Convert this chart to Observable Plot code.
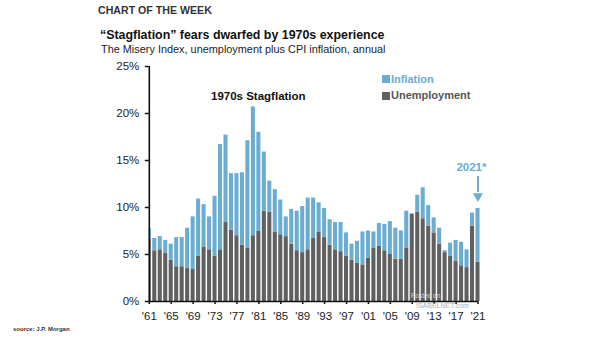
<!DOCTYPE html>
<html><head><meta charset="utf-8">
<script src="https://cdn.jsdelivr.net/npm/d3@7"></script>
<script src="https://cdn.jsdelivr.net/npm/@observablehq/plot@0.6"></script>
<style>
body{margin:0;background:#fff;font-family:"Liberation Sans",Arial,sans-serif;}
#wrap{position:relative;width:605px;height:341px;overflow:hidden;background:#fff;}
.abs{position:absolute;white-space:nowrap;line-height:1;}
.sw{position:absolute;width:8px;height:8px;}
</style></head><body>
<div id="wrap">
  <div class="abs" style="left:98px;top:5px;font-size:11.8px;font-weight:bold;color:#333;transform:scaleX(0.9);transform-origin:0 0;">CHART OF THE WEEK</div>
  <div class="abs" style="left:100px;top:29px;font-size:12.4px;font-weight:bold;color:#111;">“Stagflation” fears dwarfed by 1970s experience</div>
  <div class="abs" style="left:101px;top:43.8px;font-size:10.9px;color:#222;">The Misery Index, unemployment plus CPI inflation, annual</div>
  <div id="chart" style="position:absolute;left:0;top:60px;"></div>
  <div id="legend"></div>
  <div class="abs" style="left:411px;top:293px;font-size:6.5px;color:rgba(235,235,235,0.85);">Posted on</div>
  <div class="abs" style="left:416px;top:302px;font-size:7px;color:#a9b3b8;">ISABELNET.com</div>
  <div class="abs" style="left:13px;top:326px;font-size:6px;font-weight:bold;color:#333;">source: J.P. Morgan</div>
</div>
<script>
const years = [1961,1962,1963,1964,1965,1966,1967,1968,1969,1970,
  1971,1972,1973,1974,1975,1976,1977,1978,1979,1980,
  1981,1982,1983,1984,1985,1986,1987,1988,1989,1990,
  1991,1992,1993,1994,1995,1996,1997,1998,1999,2000,
  2001,2002,2003,2004,2005,2006,2007,2008,2009,2010,
  2011,2012,2013,2014,2015,2016,2017,2018,2019,2020,2021];
const unemployment = [6.6,5.4,5.5,5.1,4.4,3.7,3.7,3.5,3.4,4.8,
  5.8,5.5,4.8,5.5,8.4,7.6,7.0,6.0,5.7,7.0,
  7.5,9.6,9.5,7.4,7.1,6.9,6.1,5.4,5.2,5.5,
  6.7,7.4,6.8,6.0,5.5,5.3,4.8,4.4,4.1,3.9,
  4.6,5.7,5.9,5.4,5.0,4.5,4.5,5.7,9.3,9.5,
  8.8,8.0,7.3,6.1,5.2,4.8,4.3,3.8,3.6,8.0,4.2];
const inflation = [1.2,1.3,1.4,1.4,1.7,3.1,3.1,4.3,5.6,6.1,
  4.5,3.5,6.4,11.2,9.3,6.0,6.6,7.7,11.4,13.7,
  10.5,6.3,3.3,4.5,3.7,2.1,3.7,4.2,4.9,5.5,
  4.3,3.1,3.1,2.7,2.9,3.1,2.5,1.7,2.3,3.5,
  2.9,1.7,2.4,2.8,3.5,3.3,3.0,3.9,0,1.8,
  3.3,2.2,1.6,1.7,0.2,1.4,2.2,2.5,1.9,1.4,5.7];
const yTicks = [0,5,10,15,20,25];
const xTicks = [1961,1965,1969,1973,1977,1981,1985,1989,1993,1997,2001,2005,2009,2013,2017,2021];
const seriesNames = ["Inflation","Unemployment"];
const notes = [
  {label:"1970s Stagflation", year:1980.9, value:21.85, color:"#111"},
  {label:"2021*", year:2019.8, value:14.3, color:"#6aadd0"}
];
const arrowYear = [2021];

const BLUE = "#6aadd0", DARK = "#606060";
const data = years.map((y,i)=>({year:y, u:unemployment[i], inf:inflation[i]}));
const half = 0.37;

const chart = Plot.plot({
  width: 605, height: 265,
  marginLeft: 148.8, marginRight: 127.5, marginTop: 6, marginBottom: 24,
  style: {fontFamily: "'Liberation Sans', Arial, sans-serif", fontSize: "11.5px", color: "#222", background: "transparent"},
  x: {type: "linear", domain: [1961, 2021]},
  y: {domain: [0, 25]},
  marks: [
    Plot.rect(data, {x1: d => Math.max(d.year - half, 1961), x2: d => d.year + half, y1: 0, y2: "u", fill: DARK}),
    Plot.rect(data, {x1: d => Math.max(d.year - half, 1961), x2: d => d.year + half, y1: "u", y2: d => d.u + d.inf, fill: BLUE}),
    Plot.ruleY([0], {stroke: "#111", strokeWidth: 1.6}),
    Plot.ruleX([1961], {y1: 0, y2: 25, stroke: "#111", strokeWidth: 1.6}),
    Plot.axisY({ticks: yTicks, tickFormat: d => d + "%", tickSize: 4, tickPadding: 6, stroke: "#111", strokeWidth: 1.5, fontSize: 11.5, label: null}),
    Plot.axisX({ticks: xTicks, tickFormat: d => "'" + String(d).slice(2), tickSize: 3, tickPadding: 7.5, stroke: "#111", strokeWidth: 1.5, fontSize: 11.5, label: null}),
    Plot.text(notes, {x: "year", y: "value", text: "label", fill: "color", fontWeight: "bold", fontSize: 11.5, lineAnchor: "middle"}),
    Plot.ruleX(arrowYear, {y1: 13.3, y2: 11.6, stroke: BLUE, strokeWidth: 2}),
    Plot.dot(arrowYear, {x: d => d, y: 11.2, symbol: "triangle", rotate: 180, r: 3.7, fill: BLUE, stroke: null})
  ]
});
document.getElementById("chart").appendChild(chart);

// legend
const leg = document.getElementById("legend");
const legColors = [BLUE, DARK];
const legText = [BLUE, "#555"];
seriesNames.forEach((n, i) => {
  const sw = document.createElement("div");
  sw.className = "sw";
  sw.style.left = "382px"; sw.style.top = (75 + i * 16.6) + "px";
  sw.style.background = legColors[i];
  leg.appendChild(sw);
  const tx = document.createElement("div");
  tx.className = "abs";
  tx.style.left = "391px"; tx.style.top = (73.7 + i * 16.6) + "px";
  tx.style.fontSize = "11px"; tx.style.fontWeight = "bold"; tx.style.color = legText[i];
  tx.textContent = n;
  leg.appendChild(tx);
});
</script>
</body></html>
